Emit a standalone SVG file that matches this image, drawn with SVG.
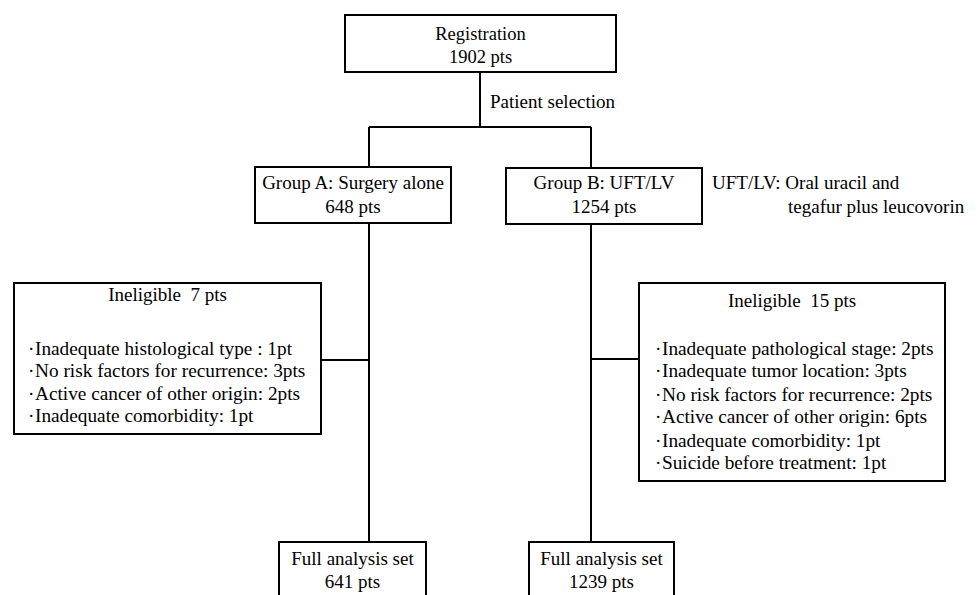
<svg xmlns="http://www.w3.org/2000/svg" width="978" height="595" viewBox="0 0 978 595">
<style>
.box{fill:#fff;stroke:#000;stroke-width:2}
.ln{stroke:#000;stroke-width:2;fill:none}
text{font-family:"Liberation Serif","Times New Roman",serif;font-size:19px;fill:#000;white-space:pre}
.c{text-anchor:middle}
.li{font-size:19.3px}
</style>
<rect width="978" height="595" fill="#fff"/>
<g id="connectors">
<path class="ln" d="M480 72V127M369 127H591M369 127V167M591 127V167M369 223V542M591 224V542M321 360H369M591 359H639"/>
</g>
<g id="registration">
<rect class="box" x="345" y="15" width="271" height="57"/>
<text class="c" x="480.5" y="40" style="font-size:18.5px">Registration</text>
<text class="c" x="480.5" y="63" style="font-size:18.5px">1902 pts</text>
</g>
<text x="490" y="108">Patient selection</text>
<g id="groupA">
<rect class="box" x="255" y="167" width="196" height="56"/>
<text class="c" x="353" y="189">Group A: Surgery alone</text>
<text class="c" x="353" y="213">648 pts</text>
</g>
<g id="groupB">
<rect class="box" x="506" y="168" width="196" height="56"/>
<text class="c" x="604" y="189">Group B: UFT/LV</text>
<text class="c" x="604" y="213">1254 pts</text>
</g>
<g id="note">
<text x="712" y="189">UFT/LV: Oral uracil and</text>
<text x="788" y="213">tegafur plus leucovorin</text>
</g>
<g id="ineligibleA">
<rect class="box" x="14" y="283" width="307" height="151"/>
<text class="c" x="167.5" y="301">Ineligible  7 pts</text>
<text class="li" x="28" y="355">·</text><text class="li" x="35" y="355">Inadequate histological type : 1pt</text>
<text class="li" x="28" y="377">·</text><text class="li" x="35" y="377">No risk factors for recurrence: 3pts</text>
<text class="li" x="28" y="400">·</text><text class="li" x="35" y="400">Active cancer of other origin: 2pts</text>
<text class="li" x="28" y="422">·</text><text class="li" x="35" y="422">Inadequate comorbidity: 1pt</text>
</g>
<g id="ineligibleB">
<rect class="box" x="639" y="283" width="306" height="198"/>
<text class="c" x="792" y="307">Ineligible  15 pts</text>
<text class="li" x="655" y="355">·</text><text class="li" x="662" y="355">Inadequate pathological stage: 2pts</text>
<text class="li" x="655" y="377">·</text><text class="li" x="662" y="377">Inadequate tumor location: 3pts</text>
<text class="li" x="655" y="401">·</text><text class="li" x="662" y="401">No risk factors for recurrence: 2pts</text>
<text class="li" x="655" y="423">·</text><text class="li" x="662" y="423">Active cancer of other origin: 6pts</text>
<text class="li" x="655" y="447">·</text><text class="li" x="662" y="447">Inadequate comorbidity: 1pt</text>
<text class="li" x="655" y="469">·</text><text class="li" x="662" y="469">Suicide before treatment: 1pt</text>
</g>
<g id="fasA">
<rect class="box" x="279" y="542" width="147" height="70"/>
<text class="c" x="352.5" y="565">Full analysis set</text>
<text class="c" x="352.5" y="588">641 pts</text>
</g>
<g id="fasB">
<rect class="box" x="529" y="542" width="145" height="70"/>
<text class="c" x="601.5" y="565">Full analysis set</text>
<text class="c" x="601.5" y="588">1239 pts</text>
</g>
</svg>
